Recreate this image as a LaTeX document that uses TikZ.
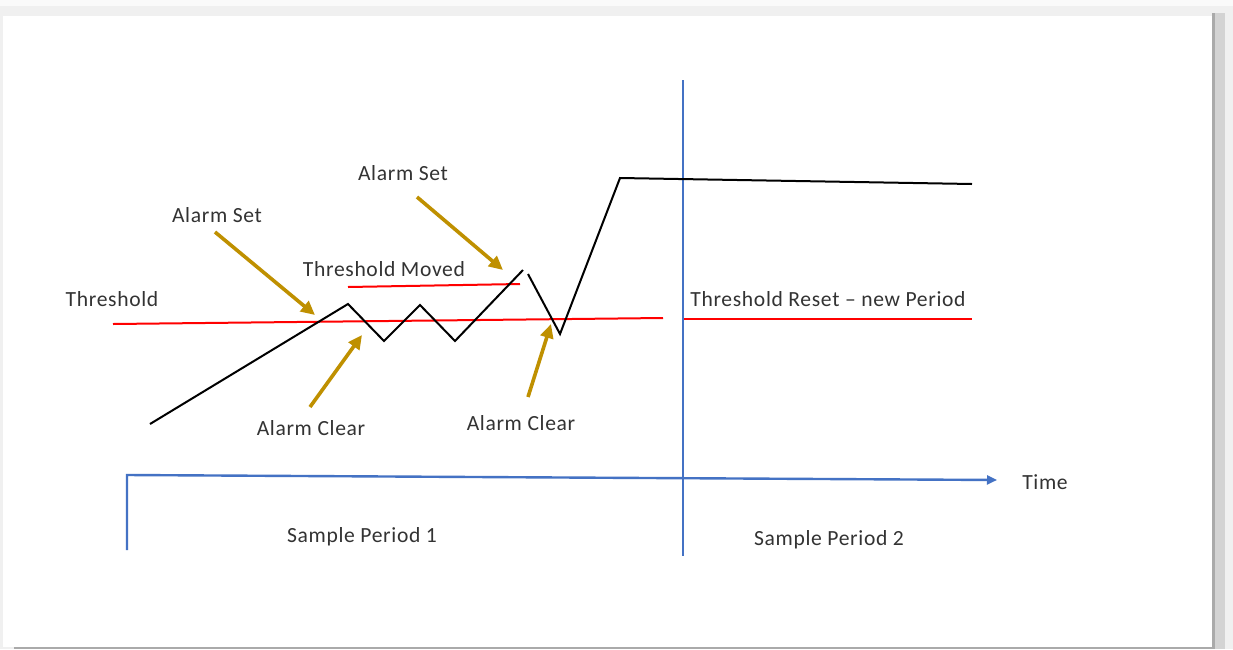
\documentclass[tikz,border=0pt]{standalone}
\usepackage{fontspec}
\setmainfont{Carlito}[LetterSpace=3]
\usetikzlibrary{arrows.meta}
\definecolor{bgray}{HTML}{F0F0F0}
\definecolor{topgray}{HTML}{FAFAFA}
\definecolor{shadowdark}{HTML}{AAAAAA}
\definecolor{shadowlight}{HTML}{D3D3D3}
\definecolor{axisblue}{HTML}{4472C4}
\definecolor{gold}{HTML}{BF9000}
\definecolor{thred}{HTML}{FF0000}
\definecolor{txt}{HTML}{333333}
\tikzset{
  sig/.style={draw=black, line width=1pt, line join=miter},
  thr/.style={draw=thred, line width=1pt},
  blueline/.style={draw=axisblue, line width=1.2pt},
  callout/.style={draw=gold, line width=1.8pt, -{Triangle[length=7pt,width=6.5pt]}, shorten >=0pt},
  lbl/.style={text=txt, font=\fontsize{10.8pt}{13pt}\selectfont, inner sep=0pt},
}
\begin{document}
\begin{tikzpicture}[x=0.5pt,y=-0.5pt]
\useasboundingbox (0,0) rectangle (1233,649);
% page background and shadow
\fill[bgray] (0,0) rectangle (1233,649);
\fill[topgray] (0,0) rectangle (1233,6);
\fill[shadowlight] (1212,13) rectangle (1225,649);
\fill[shadowdark] (1212,13) rectangle (1215,649);
\fill[shadowdark] (14,646) rectangle (1215,649);
\fill[white] (3,16) rectangle (1212,647);

% signal coordinates
\coordinate (s0) at (150,424);
\coordinate (s1) at (348,304);
\coordinate (s2) at (384,341);
\coordinate (s3) at (420,305);
\coordinate (s4) at (455,341);
\coordinate (s5) at (523,270);
\coordinate (s6) at (528,274);
\coordinate (s7) at (560,334);
\coordinate (s8) at (620,178);
\coordinate (s9) at (972,184);

% threshold lines
\coordinate (t1a) at (113,324);
\coordinate (t1b) at (663,318);
\coordinate (t2a) at (348,287);
\coordinate (t2b) at (520,284);
\coordinate (t3a) at (683,319);
\coordinate (t3b) at (972,319);
\draw[thr] (t1a) -- (t1b);
\draw[thr] (t2a) -- (t2b);
\draw[thr] (t3a) -- (t3b);

% axes
\coordinate (ax0) at (127,550);
\coordinate (ax1) at (127,475);
\coordinate (ax2) at (997,480);
\coordinate (va) at (683,80);
\coordinate (vb) at (683,556);
\draw[blueline] (va) -- (vb);
\draw[blueline, -{Triangle[length=5pt,width=4.5pt]}] (ax0) -- (ax1) -- (ax2);

% signal
\draw[sig] (s0) -- (s1) -- (s2) -- (s3) -- (s4) -- (s5);
\draw[sig] (s6) -- (s7) -- (s8) -- (s9);

% labels
\node[lbl] (lthr) at (112,299) {Threshold};
\node[lbl] (lmoved) at (384,269) {Threshold Moved};
\node[lbl] (lreset) at (828,299) {Threshold Reset – new Period};
\node[lbl] (lset1) at (217,215) {Alarm Set};
\node[lbl] (lset2) at (403,173) {Alarm Set};
\node[lbl] (lclr1) at (311,428) {Alarm Clear};
\node[lbl] (lclr2) at (521,423) {Alarm Clear};
\node[lbl] (ltime) at (1045,482) {Time};
\node[lbl] (lsp1) at (362,537) {Sample Period 1};
\node[lbl] (lsp2) at (829,540) {Sample Period 2};

% callout arrows
\coordinate (a1s) at (215,232);
\coordinate (a1e) at (315,315);
\coordinate (a2s) at (310,407);
\coordinate (a2e) at (362,335);
\coordinate (a3s) at (417,197);
\coordinate (a3e) at (503,270);
\coordinate (a4s) at (528,397);
\coordinate (a4e) at (551,324);
\draw[callout] (a1s) -- (a1e);
\draw[callout] (a2s) -- (a2e);
\draw[callout] (a3s) -- (a3e);
\draw[callout] (a4s) -- (a4e);
\end{tikzpicture}
\end{document}
